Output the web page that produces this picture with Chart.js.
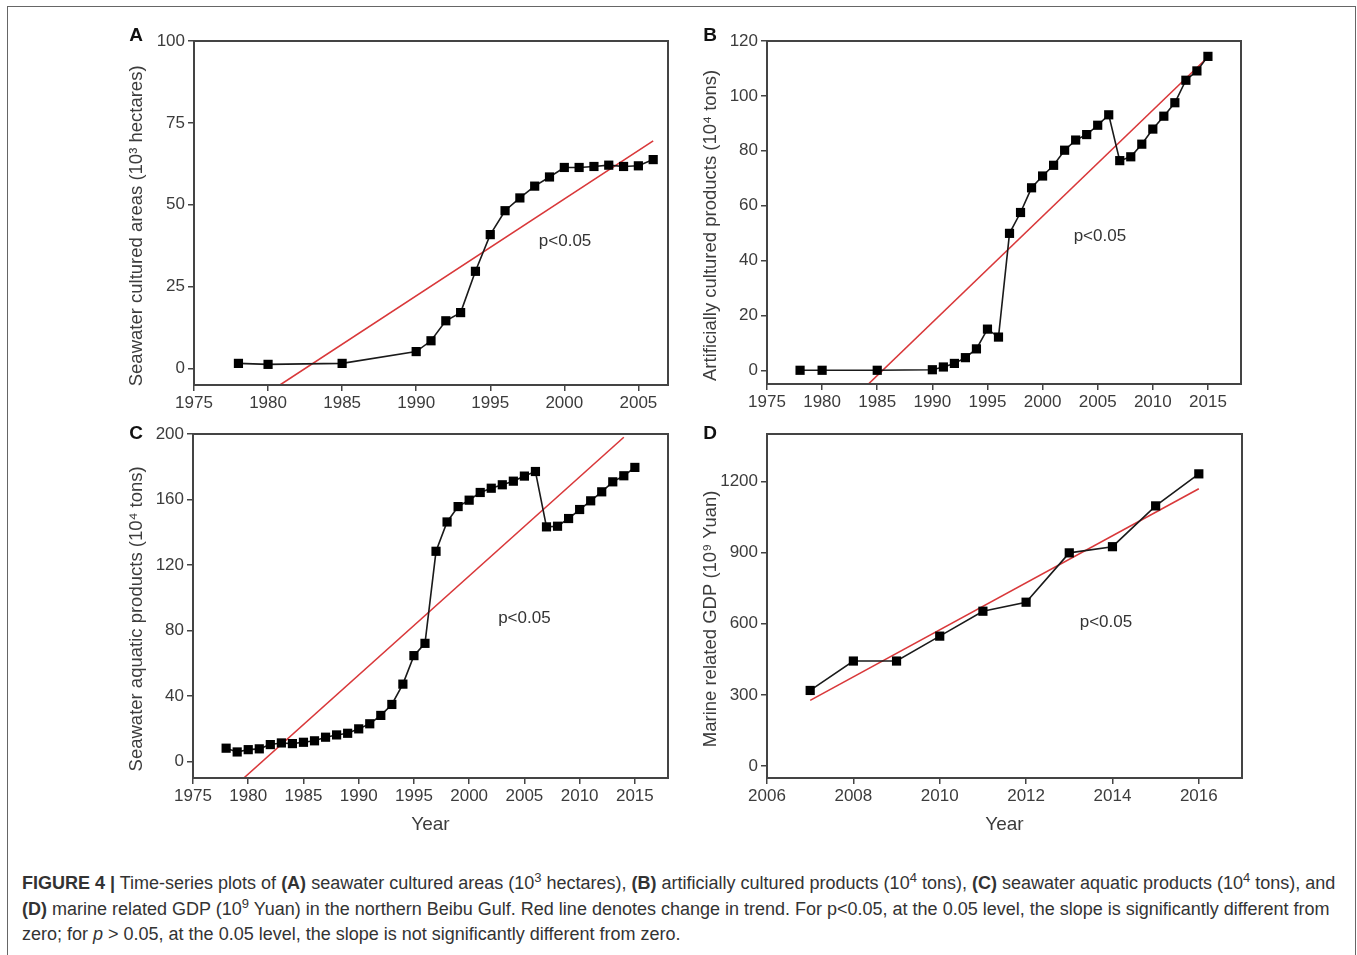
<!DOCTYPE html>
<html><head><meta charset="utf-8">
<script src="https://cdn.jsdelivr.net/npm/chart.js@4.4.1/dist/chart.umd.min.js"></script>
<style>
html,body{margin:0;padding:0;background:#fff;width:1357px;height:955px;overflow:hidden;font-family:"Liberation Sans",Arial,sans-serif;}
#frame{position:absolute;left:7px;top:6px;width:1347px;height:1000px;border:1.5px solid #666;}
canvas{position:absolute;}
.lbl{position:absolute;font-weight:bold;font-size:19px;color:#111;transform:translate(-50%,-50%);}
#cap{position:absolute;left:22px;top:871px;font-size:18px;line-height:25.5px;color:#333;white-space:nowrap;}
#cap sup{font-size:13px;line-height:0;vertical-align:7px;}
</style></head><body>
<div id="frame"></div>
<canvas id="cA" width="590" height="400" style="left:100px;top:20px"></canvas>
<canvas id="cB" width="590" height="400" style="left:690px;top:20px"></canvas>
<canvas id="cC" width="590" height="420" style="left:100px;top:420px"></canvas>
<canvas id="cD" width="590" height="420" style="left:690px;top:420px"></canvas>
<div class="lbl" style="left:136px;top:35px">A</div>
<div class="lbl" style="left:710px;top:35px">B</div>
<div class="lbl" style="left:136px;top:433px">C</div>
<div class="lbl" style="left:710px;top:433px">D</div>
<div id="cap"><b>FIGURE 4 |</b> Time-series plots of <b>(A)</b> seawater cultured areas (10<sup>3</sup> hectares), <b>(B)</b> artificially cultured products (10<sup>4</sup> tons), <b>(C)</b> seawater aquatic products (10<sup>4</sup> tons), and<br><b>(D)</b> marine related GDP (10<sup>9</sup> Yuan) in the northern Beibu Gulf. Red line denotes change in trend. For p&lt;0.05, at the 0.05 level, the slope is significantly different from<br>zero; for <i>p</i> &gt; 0.05, at the 0.05 level, the slope is not significantly different from zero.</div>
<script>
// ---- Data ----
const yearsA = [1978,1980,1985,1990,1991,1992,1993,1994,1995,1996,1997,1998,1999,2000,2001,2002,2003,2004,2005,2006];
const areaA  = [1.6,1.3,1.6,5.2,8.5,14.6,17.1,29.7,40.9,48.2,52.1,55.7,58.5,61.4,61.4,61.7,62.1,61.7,61.9,63.8];
const trendAX = [1980.8, 2006];
const trendAY = [-5, 69.5];

const yearsB = [1978,1980,1985,1990,1991,1992,1993,1994,1995,1996,1997,1998,1999,2000,2001,2002,2003,2004,2005,2006,2007,2008,2009,2010,2011,2012,2013,2014,2015];
const prodB  = [0,0,0,0.2,1.2,2.5,4.6,7.8,15.0,12.1,49.9,57.5,66.5,70.8,74.7,80.2,83.9,85.9,89.3,93.1,76.4,77.8,82.4,87.9,92.6,97.5,105.7,109.1,114.4];
const trendBX = [1984.2, 2014.7];
const trendBY = [-5, 113];

const yearsC = [1978,1979,1980,1981,1982,1983,1984,1985,1986,1987,1988,1989,1990,1991,1992,1993,1994,1995,1996,1997,1998,1999,2000,2001,2002,2003,2004,2005,2006,2007,2008,2009,2010,2011,2012,2013,2014,2015];
const aquaC  = [8.2,5.9,7.3,7.8,10.4,11.4,11.0,11.8,12.7,14.9,16.3,17.3,20.0,23.1,28.2,34.9,47.3,64.7,72.2,128.4,146.3,155.7,159.6,164.3,166.9,169.0,171.2,174.3,177.1,143.3,143.7,148.4,153.9,159.2,164.7,170.8,174.5,179.6];
const trendCX = [1979.6, 2014];
const trendCY = [-10, 198];

const yearsD = [2007,2008,2009,2010,2011,2012,2013,2014,2015,2016];
const gdpD   = [319,443,443,548,653,691,899,925,1097,1232];
const trendDX = [2007, 2016];
const trendDY = [277, 1169];

const xTicksA = [1975,1980,1985,1990,1995,2000,2005];
const yTicksA = [0,25,50,75,100];
const xTicksB = [1975,1980,1985,1990,1995,2000,2005,2010,2015];
const yTicksB = [0,20,40,60,80,100,120];
const xTicksC = [1975,1980,1985,1990,1995,2000,2005,2010,2015];
const yTicksC = [0,40,80,120,160,200];
const xTicksD = [2006,2008,2010,2012,2014,2016];
const yTicksD = [0,300,600,900,1200];

const pText = 'p<0.05';

// ---- Rendering ----
const FAM = '"Liberation Sans", Arial, sans-serif';
const SHIFT = '\u00A0\u00A0\u00A0\u00A0\u00A0'; // nudges rotated title toward the bottom like the reference
const boxNote = {
  id: 'boxNote',
  afterDraw(chart, args, opts) {
    const {ctx, chartArea: a, scales} = chart;
    ctx.save();
    ctx.strokeStyle = '#444';
    ctx.lineWidth = 2;
    ctx.strokeRect(a.left, a.top, a.right - a.left, a.bottom - a.top);
    if (opts && opts.text) {
      ctx.font = '17px ' + FAM;
      ctx.fillStyle = '#333';
      ctx.textAlign = 'center';
      ctx.textBaseline = 'middle';
      ctx.fillText(opts.text, scales.x.getPixelForValue(opts.x), scales.y.getPixelForValue(opts.y));
    }
    ctx.restore();
  }
};

function pts(xs, ys) { return xs.map((x, i) => ({x: x, y: ys[i]})); }

function build(id, o) {
  new Chart(document.getElementById(id), {
    type: 'scatter',
    data: { datasets: [
      { data: pts(o.xs, o.ys), showLine: true, borderColor: '#1a1a1a', borderWidth: 1.6,
        pointStyle: 'rect', pointRadius: 6.5, pointHoverRadius: 6.5, pointBorderWidth: 0,
        pointBackgroundColor: '#000', backgroundColor: '#000' },
      { data: pts(o.tx, o.ty), showLine: true, borderColor: '#d9383a', borderWidth: 1.6,
        pointRadius: 0, pointHoverRadius: 0 }
    ]},
    options: {
      responsive: false, animation: false, devicePixelRatio: 1,
      layout: { padding: { left: o.padL, right: o.padR, top: o.padT, bottom: 0 } },
      plugins: { legend: { display: false }, tooltip: { enabled: false },
        boxNote: { text: pText, x: o.noteX, y: o.noteY } },
      scales: {
        x: {
          type: 'linear', min: o.xMin, max: o.xMax,
          afterBuildTicks: s => { s.ticks = o.xTicks.map(v => ({value: v})); },
          afterFit: s => { s.height = o.xH; },
          grid: { display: true, drawOnChartArea: false, drawTicks: true, tickLength: 6, color: '#444', lineWidth: 1.5 },
          border: { display: false },
          ticks: { color: '#3c3c3c', font: { size: 17, family: FAM }, padding: 2, maxRotation: 0, autoSkip: false, callback: v => String(v) },
          title: { display: !!o.xTitle, text: o.xTitle || '', color: '#3c3c3c', font: { size: 19, family: FAM }, padding: { top: 0, bottom: 4 } }
        },
        y: {
          type: 'linear', min: o.yMin, max: o.yMax,
          afterBuildTicks: s => { s.ticks = o.yTicks.map(v => ({value: v})); },
          afterFit: s => { s.width = o.yW; },
          grid: { display: true, drawOnChartArea: false, drawTicks: true, tickLength: 6, color: '#444', lineWidth: 1.5 },
          border: { display: false },
          ticks: { color: '#3c3c3c', font: { size: 17, family: FAM }, padding: 3, callback: v => String(v) },
          title: { display: true, text: o.yTitle + SHIFT, color: '#3c3c3c', font: { size: 18.5, family: FAM }, padding: { top: 0, bottom: 0 } }
        }
      }
    },
    plugins: [boxNote]
  });
}

build('cA', { xs: yearsA, ys: areaA, tx: trendAX, ty: trendAY, xMin: 1975, xMax: 2007, yMin: -5, yMax: 100,
  xTicks: xTicksA, yTicks: yTicksA, yTitle: 'Seawater cultured areas (10³ hectares)',
  padL: 26, padR: 22, padT: 21, yW: 68, xH: 35, noteX: 2000.05, noteY: 38.9 });
build('cB', { xs: yearsB, ys: prodB, tx: trendBX, ty: trendBY, xMin: 1975, xMax: 2018, yMin: -5, yMax: 120,
  xTicks: xTicksB, yTicks: yTicksB, yTitle: 'Artificially cultured products (10⁴ tons)',
  padL: 10, padR: 39, padT: 21, yW: 67, xH: 36, noteX: 2005.2, noteY: 48.8 });
build('cC', { xs: yearsC, ys: aquaC, tx: trendCX, ty: trendCY, xMin: 1975, xMax: 2018, yMin: -10, yMax: 200,
  xTicks: xTicksC, yTicks: yTicksC, yTitle: 'Seawater aquatic products (10⁴ tons)', xTitle: 'Year',
  padL: 26, padR: 22, padT: 14, yW: 67, xH: 62, noteX: 2005.0, noteY: 87.7 });
build('cD', { xs: yearsD, ys: gdpD, tx: trendDX, ty: trendDY, xMin: 2006, xMax: 2017, yMin: -50, yMax: 1400,
  xTicks: xTicksD, yTicks: yTicksD, yTitle: 'Marine related GDP (10⁹ Yuan)', xTitle: 'Year',
  padL: 10, padR: 38, padT: 14, yW: 67, xH: 62, noteX: 2013.85, noteY: 607 });
</script>
</body></html>
